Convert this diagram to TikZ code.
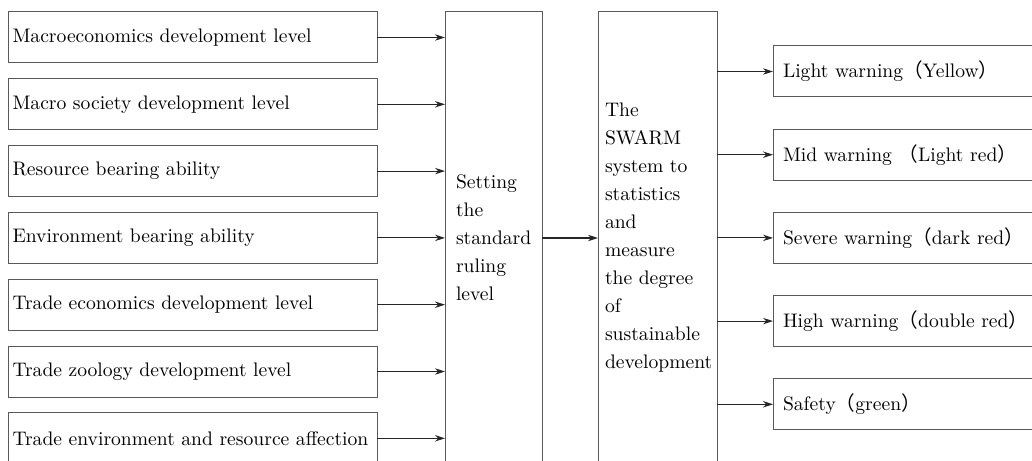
\documentclass[tikz,border=0pt]{standalone}
\usepackage{fontspec}
\newfontfamily\cjk{Noto Sans CJK SC}
\usetikzlibrary{positioning,arrows.meta}
\newcommand{\fwl}{{\cjk （}}
\newcommand{\fwr}{{\cjk ）}}
\tikzset{
  ->,
  >={Stealth[length=5pt,width=3.2pt]},
  every node/.style={font=\fontsize{9.8}{14}\selectfont,outer sep=0pt},
  inbox/.style={draw=black!65,line width=0.5pt,minimum height=25.5pt,text width=180pt,inner xsep=2.25pt,align=left},
  midbox/.style args={#1,#2}{draw=black!65,line width=0.5pt,minimum height=226pt,text width=#1pt,inner xsep=#2pt,align=left},
  outbox/.style={draw=black!65,line width=0.5pt,minimum height=25.5pt,text width=140pt,inner xsep=5pt,align=left},
  link/.style={black!85,line width=0.55pt}
}
\begin{document}
\begin{tikzpicture}[x=0.5pt,y=-0.5pt]
  \clip (0,0) rectangle (1032,460);

  % indicators
  \node[inbox,anchor=north west] (in1) at (8,12) {Macroeconomics development level};
  \node[inbox,below=7.9pt of in1] (in2) {Macro society development level};
  \node[inbox,below=7.9pt of in2] (in3) {Resource bearing ability};
  \node[inbox,below=7.9pt of in3] (in4) {Environment bearing ability};
  \node[inbox,below=7.9pt of in4] (in5) {Trade economics development level};
  \node[inbox,below=7.9pt of in5] (in6) {Trade zoology development level};
  \node[inbox,below=7.9pt of in6] (in7) {Trade environment and resource affection};

  % middle columns
  \node[midbox={37.5,5.5},right=34pt of in1.north east,anchor=north west] (std)
       {Setting\\the\\standard\\ruling\\level};
  \node[midbox={52.5,3.5},right=28pt of std.north east,anchor=north west] (swarm)
       {The\\SWARM\\system to\\statistics\\and\\measure\\the degree\\of\\sustainable\\development};

  % warning levels
  \node[outbox,below right=17pt and 28pt of swarm.north east,anchor=north west] (w1) {Light warning\fwl Yellow\fwr};
  \node[outbox,below=16.1pt of w1] (w2) {Mid warning \fwl Light red\fwr};
  \node[outbox,below=16.1pt of w2] (w3) {Severe warning\fwl dark red\fwr};
  \node[outbox,below=16.1pt of w3] (w4) {High warning\fwl double red\fwr};
  \node[outbox,below=16.1pt of w4] (w5) {Safety\fwl green\fwr};

  \path[link] (in1) edge (in1 -| std.west)
              (in2) edge (in2 -| std.west)
              (in3) edge (in3 -| std.west)
              (in4) edge (in4 -| std.west)
              (in5) edge (in5 -| std.west)
              (in6) edge (in6 -| std.west)
              (in7) edge (in7 -| std.west)
              (std) edge (swarm);
  \path[link] (swarm.east |- w1.west) edge (w1)
              (swarm.east |- w2.west) edge (w2)
              (swarm.east |- w3.west) edge (w3)
              (swarm.east |- w4.west) edge (w4)
              (swarm.east |- w5.west) edge (w5);
\end{tikzpicture}
\end{document}
